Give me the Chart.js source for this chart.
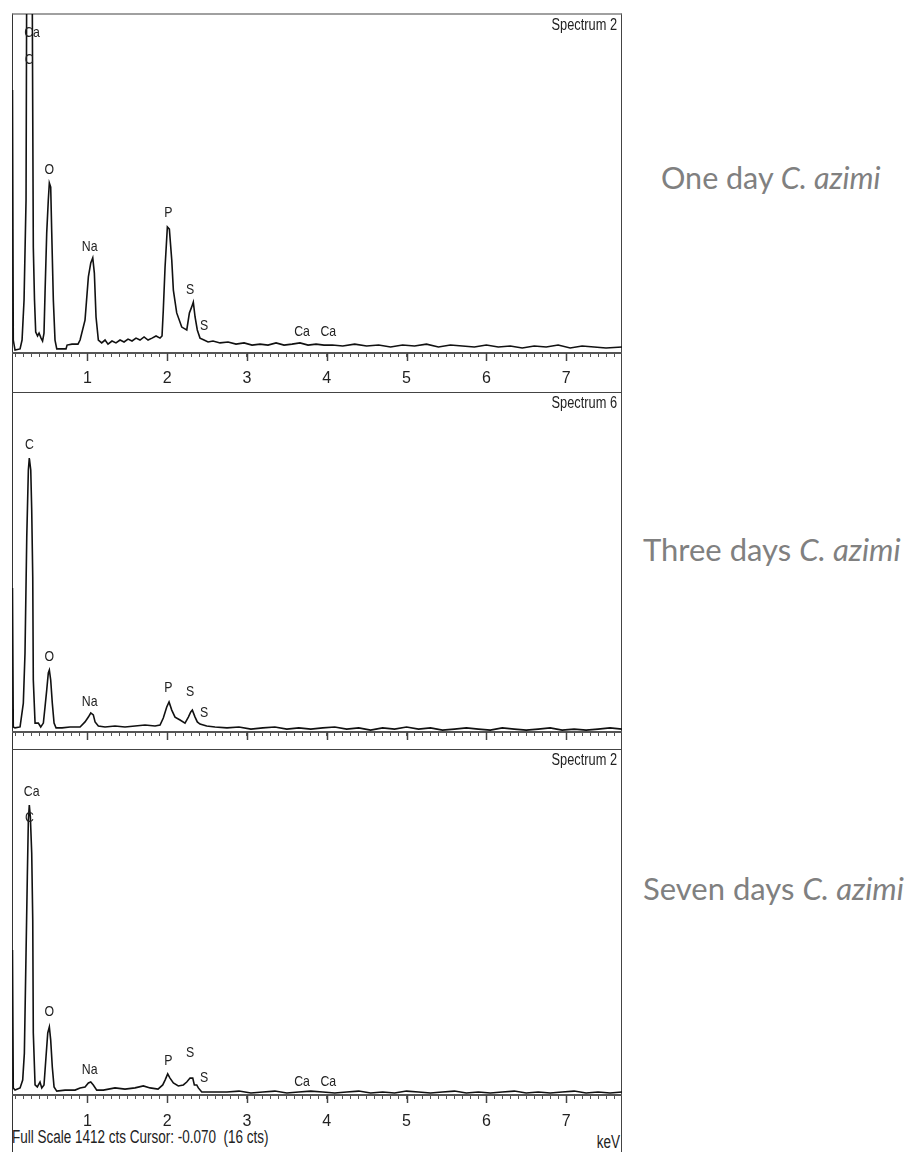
<!DOCTYPE html>
<html><head><meta charset="utf-8">
<script src="https://cdn.jsdelivr.net/npm/chart.js@4.4.1/dist/chart.umd.min.js"></script>
<style>
html,body{margin:0;padding:0;background:#fff;width:904px;height:1152px;overflow:hidden;}
#wrap{position:relative;width:904px;height:1152px;}
canvas{position:absolute;z-index:3;}
.frame{position:absolute;left:12px;top:13px;width:608px;height:1139px;border-left:1px solid #333;border-right:1px solid #444;border-top:2px solid #a0a0a0;z-index:2;}
.sep{position:absolute;left:12px;width:610px;height:1px;background:#444;z-index:2;}
.side{position:absolute;font-family:Lato,'Open Sans',sans-serif;font-size:31px;color:#808080;line-height:1;white-space:nowrap;}
.side i{font-style:italic;}
.foot{position:absolute;font-family:'Liberation Sans',Arial,sans-serif;font-size:18px;color:#222;line-height:1;white-space:pre;transform:scaleX(0.75);}
</style></head>
<body><div id="wrap">
<canvas id="c1" width="610" height="378" style="left:12px;top:14px"></canvas>
<canvas id="c2" width="610" height="357" style="left:12px;top:392px"></canvas>
<canvas id="c3" width="610" height="403" style="left:12px;top:749px"></canvas>
<div class="frame"></div>
<div class="sep" style="top:392px"></div>
<div class="sep" style="top:749px"></div>
<div class="side" style="left:661px;top:162px;font-size:30.5px">One day <i>C. azimi</i></div>
<div class="side" style="left:643px;top:534px">Three days <i>C. azimi</i></div>
<div class="side" style="left:643px;top:873px">Seven days <i>C. azimi</i></div>
<div class="foot" style="left:12px;top:1128px;transform-origin:left center">Full Scale 1412 cts Cursor: -0.070  (16 cts)</div>
<div class="foot" style="right:284px;top:1133px;transform-origin:right center">keV</div>
</div>
<script>
// ---- data (energy in keV, intensity in counts) ----
const day1Kev = [0.062,0.072,0.094,0.157,0.182,0.207,0.232,0.248,0.269,0.294,
0.313,0.323,0.338,0.353,0.376,0.395,0.420,0.439,0.457,0.470,
0.491,0.511,0.524,0.541,0.554,0.574,0.595,0.617,0.658,0.733,
0.746,0.808,0.883,0.909,0.971,1.013,1.043,1.068,1.088,1.109,
1.138,1.180,1.222,1.259,1.309,1.359,1.410,1.460,1.510,1.560,
1.610,1.660,1.711,1.761,1.811,1.861,1.911,1.936,1.952,1.974,
2.003,2.028,2.058,2.078,2.120,2.183,2.246,2.279,2.308,2.328,
2.350,2.378,2.412,2.462,2.513,2.575,2.663,2.763,2.863,2.964,
3.064,3.164,3.264,3.365,3.465,3.565,3.665,3.766,3.866,3.966,
4.07,4.20,4.35,4.50,4.65,4.80,4.95,5.10,5.25,5.40,
5.55,5.70,5.85,6.00,6.15,6.30,6.45,6.60,6.75,6.90,
7.05,7.20,7.35,7.50,7.70];
const day1Counts = [1095,54,12,17,54,221,637,2400,3300,2900,
1220,441,221,87,71,83,62,50,83,250,
500,637,708,691,500,221,54,17,17,17,
33,37,37,54,137,317,375,396,333,150,
54,42,54,37,50,42,54,46,58,50,
62,54,67,54,62,71,62,71,179,358,
525,516,387,262,167,108,96,167,192,212,
150,96,62,54,46,50,42,46,37,42,
33,37,33,42,33,37,42,33,37,33,
33,29,37,29,33,25,33,29,37,25,
33,29,25,33,25,29,21,29,25,33,
21,29,25,21,25];

const day3Kev = [0.062,0.072,0.094,0.157,0.198,0.219,0.241,0.261,0.273,0.291,
0.303,0.316,0.323,0.345,0.386,0.416,0.449,0.470,0.491,0.511,
0.524,0.541,0.561,0.583,0.608,0.683,0.783,0.909,0.971,1.013,
1.043,1.075,1.097,1.138,1.222,1.347,1.472,1.598,1.723,1.848,
1.911,1.952,1.995,2.024,2.058,2.099,2.162,2.224,2.266,2.296,
2.316,2.350,2.378,2.412,2.496,2.600,
2.75,2.90,3.05,3.20,3.35,3.50,3.65,3.80,3.95,4.10,
4.25,4.40,4.55,4.70,4.85,5.00,5.15,5.30,5.45,5.60,
5.75,5.90,6.05,6.20,6.35,6.50,6.65,6.80,6.95,7.10,
7.25,7.40,7.55,7.70];
const day3Counts = [598,21,17,21,120,328,810,1088,1138,1088,
922,644,216,37,37,21,37,104,174,245,
257,216,120,37,17,17,21,21,42,62,
79,71,42,25,21,25,21,25,29,25,
29,58,104,125,91,62,50,37,62,83,
91,62,42,33,25,21,
17,21,12,17,21,12,17,12,17,21,
12,17,8,17,12,21,12,17,8,12,
17,12,8,17,12,8,12,17,8,12,
8,12,17,12];

const day7Kev = [0.062,0.072,0.094,0.157,0.190,0.211,0.232,0.248,0.261,0.273,
0.286,0.303,0.316,0.323,0.345,0.373,0.407,0.429,0.457,0.482,
0.504,0.524,0.541,0.561,0.583,0.617,0.721,0.846,0.909,0.971,
1.013,1.043,1.075,1.118,1.201,1.347,1.472,1.598,1.702,1.786,
1.886,1.945,1.974,2.007,2.036,2.078,2.140,2.203,2.246,2.287,
2.321,2.341,2.371,2.391,2.434,2.538,
2.75,2.90,3.05,3.20,3.35,3.50,3.65,3.80,3.95,4.10,
4.25,4.40,4.55,4.70,4.85,5.00,5.15,5.30,5.45,5.60,
5.75,5.90,6.05,6.20,6.35,6.50,6.65,6.80,6.95,7.10,
7.25,7.40,7.55,7.70];
const day7Counts = [592,29,20,29,61,171,580,890,1122,1183,
1135,988,714,253,41,33,53,29,41,155,
253,278,224,114,33,16,20,20,29,33,
49,53,41,20,20,29,24,29,37,29,
24,41,61,86,69,49,37,41,53,69,
69,41,41,29,12,12,
12,16,8,12,16,8,12,16,12,8,
12,16,8,12,8,16,12,8,12,16,
8,12,8,12,16,8,12,8,12,16,
8,12,8,12];

// peak annotations: element name, energy (keV), label height (counts)
const day1PeakNames = ['Ca','C','O','Na','P','S','S','Ca','Ca'];
const day1PeakKev = [0.307,0.270,0.524,1.03,2.015,2.287,2.462,3.69,4.02];
const day1PeakCounts = [1333,1220,762,441,583,262,112,87,87];
const day3PeakNames = ['C','O','Na','P','S','S'];
const day3PeakKev = [0.273,0.524,1.03,2.015,2.287,2.462];
const day3PeakCounts = [1192,313,126,183,167,79];
const day7PeakNames = ['Ca','C','O','Na','P','S','S','Ca','Ca'];
const day7PeakKev = [0.303,0.273,0.524,1.03,2.015,2.287,2.462,3.69,4.02];
const day7PeakCounts = [1238,1130,340,102,140,170,68,53,53];

const spectrumTitles = ['Spectrum 2','Spectrum 6','Spectrum 2'];
const majorTicks = [1,2,3,4,5,6,7];
const fullScale = 1412;
const kevMin = 0.056, kevMax = 7.70;

// ---- drawing ----
const SANS = "'Liberation Sans',Arial,sans-serif";
const minorTickValues = [];
for (let i = 1; i <= 76; i++) minorTickValues.push(i / 10);

function narrowText(ctx, text, x, y, sx) {
  ctx.save(); ctx.translate(x, y); ctx.scale(sx, 1); ctx.fillText(text, 0, 0); ctx.restore();
}

const edsPlugin = {
  id: 'eds',
  afterDraw(chart, args, opts) {
    const ctx = chart.ctx, xs = chart.scales.x, ys = chart.scales.y, a = chart.chartArea;
    ctx.save();
    ctx.strokeStyle = '#444'; ctx.lineWidth = 1.5;
    majorTicks.forEach(k => {
      const px = Math.round(xs.getPixelForValue(k)) + 0.5;
      ctx.beginPath(); ctx.moveTo(px, a.bottom); ctx.lineTo(px, a.bottom + 8); ctx.stroke();
    });
    ctx.fillStyle = '#222';
    ctx.font = '15px ' + SANS;
    ctx.textAlign = 'center'; ctx.textBaseline = 'middle';
    const names = opts.names, kev = opts.kev, cnt = opts.counts;
    for (let i = 0; i < names.length; i++) {
      narrowText(ctx, names[i], xs.getPixelForValue(kev[i]), ys.getPixelForValue(cnt[i]), 0.82);
    }
    ctx.font = '16px ' + SANS;
    ctx.textAlign = 'right';
    narrowText(ctx, opts.title, a.right - 5, a.top + 12, 0.8);
    ctx.restore();
  }
};

function makePanel(id, kev, counts, names, pKev, pCounts, title, axisHeight, showLabels, labelPad) {
  new Chart(document.getElementById(id), {
    type: 'line',
    data: { datasets: [{
      data: kev.map((e, i) => ({ x: e, y: counts[i] })),
      borderColor: '#111', borderWidth: 1.6, pointRadius: 0, tension: 0, fill: false
    }]},
    options: {
      responsive: false, animation: false, devicePixelRatio: 1,
      layout: { padding: 0 },
      plugins: {
        legend: { display: false }, tooltip: { enabled: false },
        eds: { names: names, kev: pKev, counts: pCounts, title: title }
      },
      scales: {
        x: {
          type: 'linear', min: kevMin, max: kevMax,
          afterBuildTicks: s => { s.ticks = minorTickValues.map(v => ({ value: v })); },
          afterFit: s => { s.height = axisHeight; s.paddingLeft = 0; s.paddingRight = 0; },
          ticks: {
            display: showLabels, autoSkip: false, maxRotation: 0, minRotation: 0,
            padding: labelPad, color: '#222', font: { family: SANS, size: 16 },
            callback: v => { const r = Math.round(v * 10) / 10; return majorTicks.includes(r) ? String(r) : ''; }
          },
          grid: { display: true, drawOnChartArea: false, drawTicks: true, tickLength: 4, tickColor: '#555', tickWidth: 1 },
          border: { display: true, color: '#555', width: 2 }
        },
        y: { display: false, min: 0, max: fullScale }
      }
    },
    plugins: [edsPlugin]
  });
}

makePanel('c1', day1Kev, day1Counts, day1PeakNames, day1PeakKev, day1PeakCounts, spectrumTitles[0], 39, true, 12);
makePanel('c2', day3Kev, day3Counts, day3PeakNames, day3PeakKev, day3PeakCounts, spectrumTitles[1], 17, false, 10);
makePanel('c3', day7Kev, day7Counts, day7PeakNames, day7PeakKev, day7PeakCounts, spectrumTitles[2], 57, true, 13);
</script>
</body></html>
